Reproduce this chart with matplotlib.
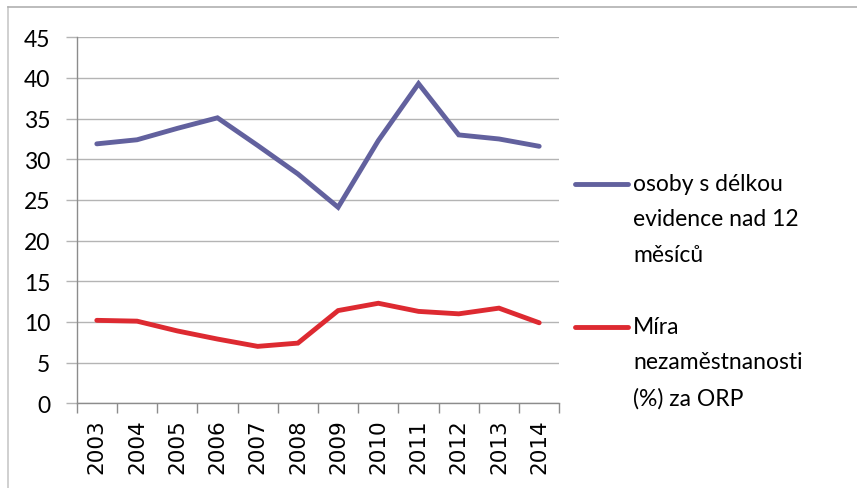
import numpy as np
import matplotlib.pyplot as plt
from matplotlib.lines import Line2D

plt.rcParams['font.family'] = ['Lato', 'DejaVu Sans']

years = ['2003', '2004', '2005', '2006', '2007', '2008',
         '2009', '2010', '2011', '2012', '2013', '2014']
long_term = [31.9, 32.4, 33.8, 35.1, 31.7, 28.2, 24.1, 32.3, 39.3, 33.0, 32.5, 31.6]
unemployment = [10.2, 10.1, 8.9, 7.9, 7.0, 7.4, 11.4, 12.3, 11.3, 11.0, 11.7, 9.9]
series_labels = ['osoby s délkou\nevidence nad 12\nměsíců',
                 'Míra\nnezaměstnanosti\n(%) za ORP']
colors = ['#62619e', '#dd2a31']

W, H = 857, 489
fig = plt.figure(figsize=(W / 100, H / 100), dpi=100, facecolor='white')
ax = fig.add_axes([76.7 / W, 1 - 404.3 / H, 482.6 / W, 366 / H])

x = np.arange(len(years))
for vals, col in zip([long_term, unemployment], colors):
    ax.plot(x, vals, color=col, lw=3.5, solid_capstyle='round', solid_joinstyle='miter')

ax.set_xlim(-0.5, len(years) - 0.5)
ax.set_ylim(0, 45)
ax.set_yticks(np.arange(0, 46, 5))
ax.yaxis.grid(True, color='#b4b4b4', lw=1)
ax.set_axisbelow(True)
for s in ['top', 'right']:
    ax.spines[s].set_visible(False)
for s in ['left', 'bottom']:
    ax.spines[s].set_color('#8c8c8c')
    ax.spines[s].set_linewidth(1)

# category labels centred, tick marks between categories
ax.set_xticks(x)
ax.set_xticklabels(years, rotation=90, fontsize=15.5, color='black', family='DejaVu Sans')
ax.tick_params(axis='x', which='major', length=0, pad=11)
ax.set_xticks(np.arange(-0.5, len(years)), minor=True)
ax.tick_params(axis='x', which='minor', length=7, color='#8c8c8c', width=1)
ax.tick_params(axis='y', length=8, color='#b4b4b4', width=1, labelsize=16.5, pad=11)

# legend drawn by hand
legend_y = [185, 328]
for lab, col, ly in zip(series_labels, colors, legend_y):
    fig.add_artist(Line2D([575 / W, 628 / W], [1 - ly / H, 1 - ly / H], color=col, lw=3.5,
                          solid_capstyle='round'))
    fig.text(633 / W, 1 - (ly - 11) / H, lab, fontsize=16.5, va='top', ha='left',
             linespacing=1.85)

# chart area frame
fig.add_artist(Line2D([8 / W, 8 / W], [0, 1 - 8 / H], color='#c8c8c8', lw=1.2))
fig.add_artist(Line2D([8 / W, 1], [1 - 8 / H, 1 - 8 / H], color='#b0b0b0', lw=1.2))

fig.savefig('out.png', dpi=100, facecolor='white')
